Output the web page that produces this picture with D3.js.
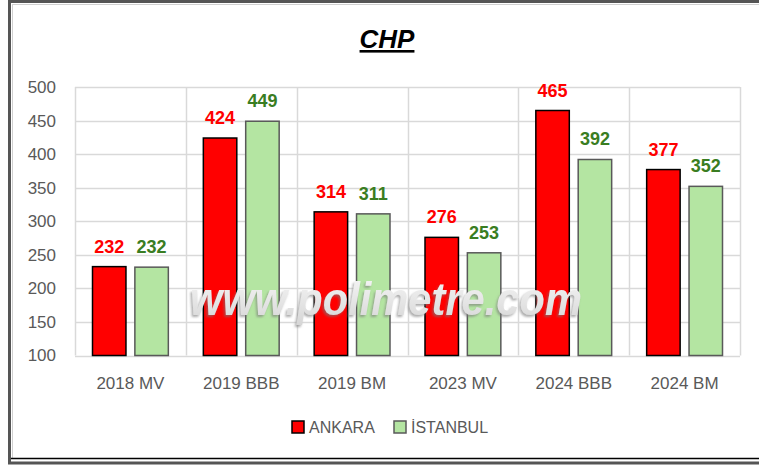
<!DOCTYPE html>
<html>
<head>
<meta charset="utf-8">
<script src="https://cdn.jsdelivr.net/npm/d3@7"></script>
<style>
  body { margin: 0; background: #fff; }
  svg { display: block; }
</style>
</head>
<body>
<script>
// values
var categories = ["2018 MV", "2019 BBB", "2019 BM", "2023 MV", "2024 BBB", "2024 BM"];
var ankara = [232.4, 424, 314, 276, 465, 377];
var istanbul = [231.6, 449, 311, 253, 392, 352];
var seriesNames = ["ANKARA", "İSTANBUL"];
var yTicks = [100, 150, 200, 250, 300, 350, 400, 450, 500];

var W = 759, H = 465;
var margin = {top: 87, right: 19, bottom: 109.5, left: 75};
var width = W - margin.left - margin.right,
    height = H - margin.top - margin.bottom;

var fills = ["#ff0000", "#b4e5a2"];
var strokes = ["#000000", "#595959"];
var labelColors = ["#ff0000", "#3a7d22"];

var svg = d3.select("body").append("svg")
  .attr("width", W)
  .attr("height", H);

// frame
svg.append("rect")
  .attr("x", 9.5).attr("y", 1.5)
  .attr("width", 760).attr("height", 461.5)
  .attr("fill", "none")
  .attr("stroke", "#555").attr("stroke-width", 3);
svg.append("line")
  .attr("x1", 12).attr("x2", W).attr("y1", 4.5).attr("y2", 4.5)
  .attr("stroke", "#d0d0d0");
svg.append("line")
  .attr("x1", 12.5).attr("x2", 12.5).attr("y1", 4).attr("y2", 458)
  .attr("stroke", "#d0d0d0");
svg.append("line")
  .attr("x1", 11).attr("x2", W).attr("y1", 458.5).attr("y2", 458.5)
  .attr("stroke", "#000").attr("stroke-width", 1.5);

// title
svg.append("text")
  .attr("x", 387).attr("y", 48)
  .attr("text-anchor", "middle")
  .style("font-family", "'Liberation Sans', Arial, sans-serif")
  .style("font-size", "26px")
  .style("font-weight", "bold")
  .style("font-style", "italic")
  .style("text-decoration", "underline")
  .text("CHP");

var g = svg.append("g")
  .attr("transform", "translate(" + margin.left + "," + margin.top + ")");

var x = d3.scaleBand()
  .domain(categories)
  .range([0, width])
  .paddingInner(0)
  .paddingOuter(0);

var y = d3.scaleLinear()
  .domain([100, 500])
  .range([height, 0]);

var inner = d3.scaleBand()
  .domain([0, 1])
  .range([17.5, x.bandwidth() - 17.5])
  .paddingInner(0.21);

// grid
g.selectAll(".hgrid")
  .data(yTicks)
  .enter().append("line")
  .attr("class", "hgrid")
  .attr("x1", 0).attr("x2", width)
  .attr("y1", function(d) { return Math.round(y(d)) + 0.5; })
  .attr("y2", function(d) { return Math.round(y(d)) + 0.5; })
  .attr("stroke", "#d9d9d9").attr("stroke-width", 1.5);

g.selectAll(".vgrid")
  .data(d3.range(categories.length + 1))
  .enter().append("line")
  .attr("class", "vgrid")
  .attr("x1", function(i) { return Math.round(i * x.step()) + 0.5; })
  .attr("x2", function(i) { return Math.round(i * x.step()) + 0.5; })
  .attr("y1", 0).attr("y2", height)
  .attr("stroke", "#d9d9d9").attr("stroke-width", 1.5);

// y axis labels
var yAxis = d3.axisLeft(y).tickValues(yTicks).tickSize(0).tickPadding(19);
g.append("g")
  .attr("class", "y axis")
  .call(yAxis)
  .call(function(s) { s.select(".domain").remove(); })
  .selectAll("text")
  .attr("fill", "#595959")
  .style("font-family", "'Liberation Sans', Arial, sans-serif")
  .style("font-size", "17px");

// x axis labels
var xAxis = d3.axisBottom(x).tickSize(0).tickPadding(21);
g.append("g")
  .attr("class", "x axis")
  .attr("transform", "translate(0," + height + ")")
  .call(xAxis)
  .call(function(s) { s.select(".domain").remove(); })
  .selectAll("text")
  .attr("fill", "#595959")
  .style("font-family", "'Liberation Sans', Arial, sans-serif")
  .style("font-size", "17px");

var series = [ankara, istanbul];

series.forEach(function(vals, si) {
  var data = vals.map(function(v, i) { return {cat: categories[i], v: v}; });

  g.selectAll(".bar" + si)
    .data(data)
    .enter().append("rect")
    .attr("class", "bar" + si)
    .attr("x", function(d) { return x(d.cat) + inner(si); })
    .attr("y", function(d) { return y(d.v); })
    .attr("width", inner.bandwidth())
    .attr("height", function(d) { return height - y(d.v); })
    .attr("fill", fills[si])
    .attr("stroke", strokes[si])
    .attr("stroke-width", 1.5);

  g.selectAll(".lbl" + si)
    .data(data)
    .enter().append("text")
    .attr("class", "lbl" + si)
    .attr("x", function(d) { return x(d.cat) + inner(si) + inner.bandwidth() / 2; })
    .attr("y", function(d) { return y(d.v) - 14; })
    .attr("text-anchor", "middle")
    .attr("fill", labelColors[si])
    .style("font-family", "'Liberation Sans', Arial, sans-serif")
    .style("font-size", "18px")
    .style("font-weight", "bold")
    .text(function(d) { return d3.format(".0f")(d.v); });
});

// watermark
var defs = svg.append("defs");
var grad = defs.append("linearGradient")
  .attr("id", "wmgrad").attr("x1", 0).attr("y1", 0).attr("x2", 0).attr("y2", 1);
grad.append("stop").attr("offset", "0%").attr("stop-color", "#f7f7f7");
grad.append("stop").attr("offset", "100%").attr("stop-color", "#d6d6d6");
var filt = defs.append("filter").attr("id", "wmshadow")
  .attr("x", "-10%").attr("y", "-30%").attr("width", "120%").attr("height", "160%");
filt.append("feDropShadow")
  .attr("dx", -1.5).attr("dy", 2).attr("stdDeviation", 1.2)
  .attr("flood-color", "#777").attr("flood-opacity", 0.6);

svg.append("text")
  .attr("x", 190).attr("y", 315)
  .attr("textLength", 392)
  .attr("lengthAdjust", "spacingAndGlyphs")
  .attr("fill", "url(#wmgrad)")
  .attr("filter", "url(#wmshadow)")
  .style("font-family", "'Liberation Sans', Arial, sans-serif")
  .style("font-size", "46px")
  .style("font-weight", "bold")
  .style("font-style", "italic")
  .text("www.polimetre.com");

// legend
var legend = svg.append("g").attr("class", "legend");
var legX = [292, 394];
seriesNames.forEach(function(name, si) {
  legend.append("rect")
    .attr("x", legX[si]).attr("y", 421)
    .attr("width", 12).attr("height", 12)
    .attr("fill", fills[si])
    .attr("stroke", strokes[si]).attr("stroke-width", 1.5);
  legend.append("text")
    .attr("x", legX[si] + 17).attr("y", 433)
    .attr("fill", "#595959")
    .style("font-family", "'Liberation Sans', Arial, sans-serif")
    .style("font-size", "16px")
    .text(name);
});
</script>
</body>
</html>
